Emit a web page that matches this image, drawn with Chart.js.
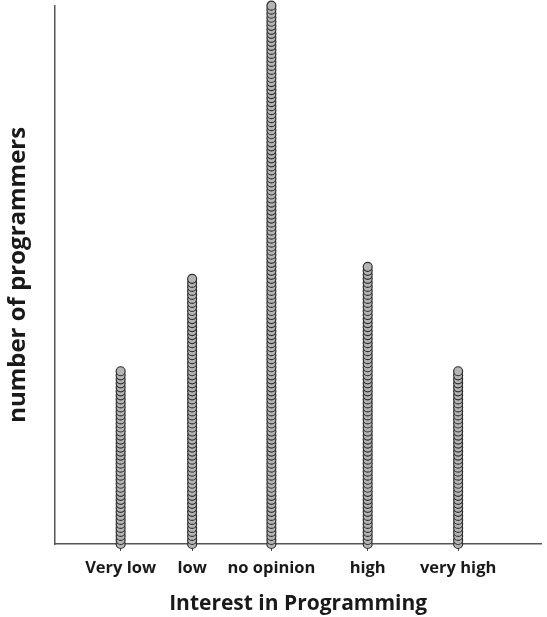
<!DOCTYPE html>
<html>
<head>
<meta charset="utf-8">
<script src="https://cdn.jsdelivr.net/npm/chart.js@4"></script>
<style>
  html, body { margin: 0; padding: 0; background: #fff; }
  #wrap { width: 547px; height: 617px; }
</style>
</head>
<body>
<div id="wrap"><canvas id="myChart"></canvas></div>
<script>
// data
var categories = ['Very low', 'low', 'no opinion', 'high', 'very high'];
var counts = [44, 67, 135, 70, 44];
// where each category sits along the x axis (0-100)
var categoryPos = [13.5, 28.2, 44.5, 64.3, 82.9];

// one point per programmer, stacked up from the axis
var points = [];
for (var i = 0; i < categories.length; i++) {
    for (var k = 0; k < counts[i]; k++) {
        points.push({ x: categoryPos[i], y: k });
    }
}

var ctx = document.getElementById('myChart').getContext('2d');
var myChart = new Chart(ctx, {
    type: 'scatter',
    data: {
        datasets: [{
            data: points,
            pointStyle: 'circle',
            pointRadius: 4.5,
            pointHoverRadius: 4.5,
            backgroundColor: '#b4b4b4',
            borderColor: '#2e2e2e',
            borderWidth: 1.2,
            clip: false
        }]
    },
    options: {
        responsive: true,
        maintainAspectRatio: false,
        animation: false,
        layout: {
            padding: { left: 0, right: 0, top: 5, bottom: 0 }
        },
        scales: {
            x: {
                type: 'linear',
                min: 0,
                max: 100,
                afterBuildTicks: function (scale) {
                    scale.ticks = categoryPos.map(function (p) { return { value: p }; });
                },
                afterFit: function (scale) { scale.height = 73; },
                ticks: {
                    autoSkip: false,
                    maxRotation: 0,
                    padding: 7,
                    color: '#1a1a1a',
                    font: { family: 'Open Sans', size: 16.5, weight: 'bold' },
                    callback: function (value) {
                        var idx = categoryPos.indexOf(value);
                        return idx >= 0 ? categories[idx] : '';
                    }
                },
                grid: {
                    drawOnChartArea: false,
                    drawTicks: true,
                    tickLength: 7,
                    color: '#444'
                },
                border: { color: '#555', width: 1.5 },
                title: {
                    display: true,
                    text: 'Interest in Programming',
                    color: '#1a1a1a',
                    padding: { top: 2, bottom: 0 },
                    font: { family: 'Open Sans', size: 21, weight: 'bold' }
                }
            },
            y: {
                min: 0,
                max: 134,
                afterFit: function (scale) { scale.width = 55; },
                ticks: { display: false },
                grid: { display: false },
                border: { color: '#555', width: 1.5 },
                title: {
                    display: true,
                    text: 'number of programmers',
                    color: '#1a1a1a',
                    padding: { top: 4, bottom: 0 },
                    font: { family: 'Open Sans', size: 24, weight: 'bold' }
                }
            }
        },
        plugins: {
            legend: { display: false },
            tooltip: { enabled: false }
        }
    }
});
</script>
</body>
</html>
